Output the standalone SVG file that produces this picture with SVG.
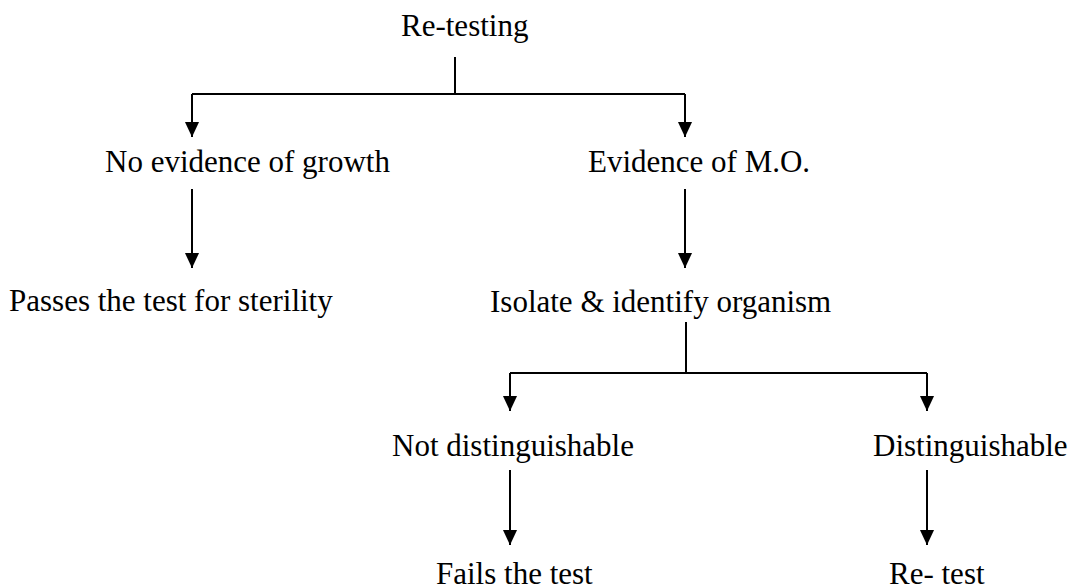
<svg xmlns="http://www.w3.org/2000/svg" width="1074" height="587" viewBox="0 0 1074 587">
<style>
text{font-family:'Liberation Serif','DejaVu Serif',serif;font-size:31px;fill:#000}
.c line,.c polyline{stroke:#000;stroke-width:2;fill:none}
</style>
<defs>
<marker id="a" markerUnits="userSpaceOnUse" markerWidth="15" markerHeight="16" refX="16" refY="7.5" orient="auto" viewBox="0 0 16 15">
<path d="M0,0 L16,7.5 L0,15 Z" fill="#000"/>
</marker>
</defs>
<rect width="1074" height="587" fill="#fff"/>
<g id="n-retesting"><text x="401" y="36" font-family="Liberation Serif, serif">Re-testing</text></g>
<g id="n-noevidence"><text x="105" y="172" font-family="Liberation Serif, serif">No evidence of growth</text></g>
<g id="n-evidence"><text x="588" y="172" font-family="Liberation Serif, serif">Evidence of M.O.</text></g>
<g id="n-passes"><text x="9" y="311" font-family="Liberation Serif, serif">Passes the test for sterility</text></g>
<g id="n-isolate"><text x="490" y="312" font-family="Liberation Serif, serif">Isolate &amp; identify organism</text></g>
<g id="n-notdist"><text x="392" y="456" font-family="Liberation Serif, serif">Not distinguishable</text></g>
<g id="n-dist"><text x="873" y="456" font-family="Liberation Serif, serif">Distinguishable</text></g>
<g id="n-fails"><text x="436" y="584" font-family="Liberation Serif, serif">Fails the test</text></g>
<g id="n-retest"><text x="889" y="584" font-family="Liberation Serif, serif">Re- test</text></g>
<g id="connectors" class="c">
<line x1="455" y1="57" x2="455" y2="94"/>
<polyline points="192,94 685,94"/>
<line x1="192" y1="94" x2="192" y2="137" marker-end="url(#a)"/>
<line x1="685" y1="94" x2="685" y2="137" marker-end="url(#a)"/>
<line x1="192" y1="189" x2="192" y2="268" marker-end="url(#a)"/>
<line x1="685" y1="189" x2="685" y2="268" marker-end="url(#a)"/>
<line x1="686" y1="322" x2="686" y2="373"/>
<polyline points="510,373 927,373"/>
<line x1="510" y1="373" x2="510" y2="411" marker-end="url(#a)"/>
<line x1="927" y1="373" x2="927" y2="411" marker-end="url(#a)"/>
<line x1="510" y1="470" x2="510" y2="545" marker-end="url(#a)"/>
<line x1="927" y1="470" x2="927" y2="545" marker-end="url(#a)"/>
</g>
</svg>
